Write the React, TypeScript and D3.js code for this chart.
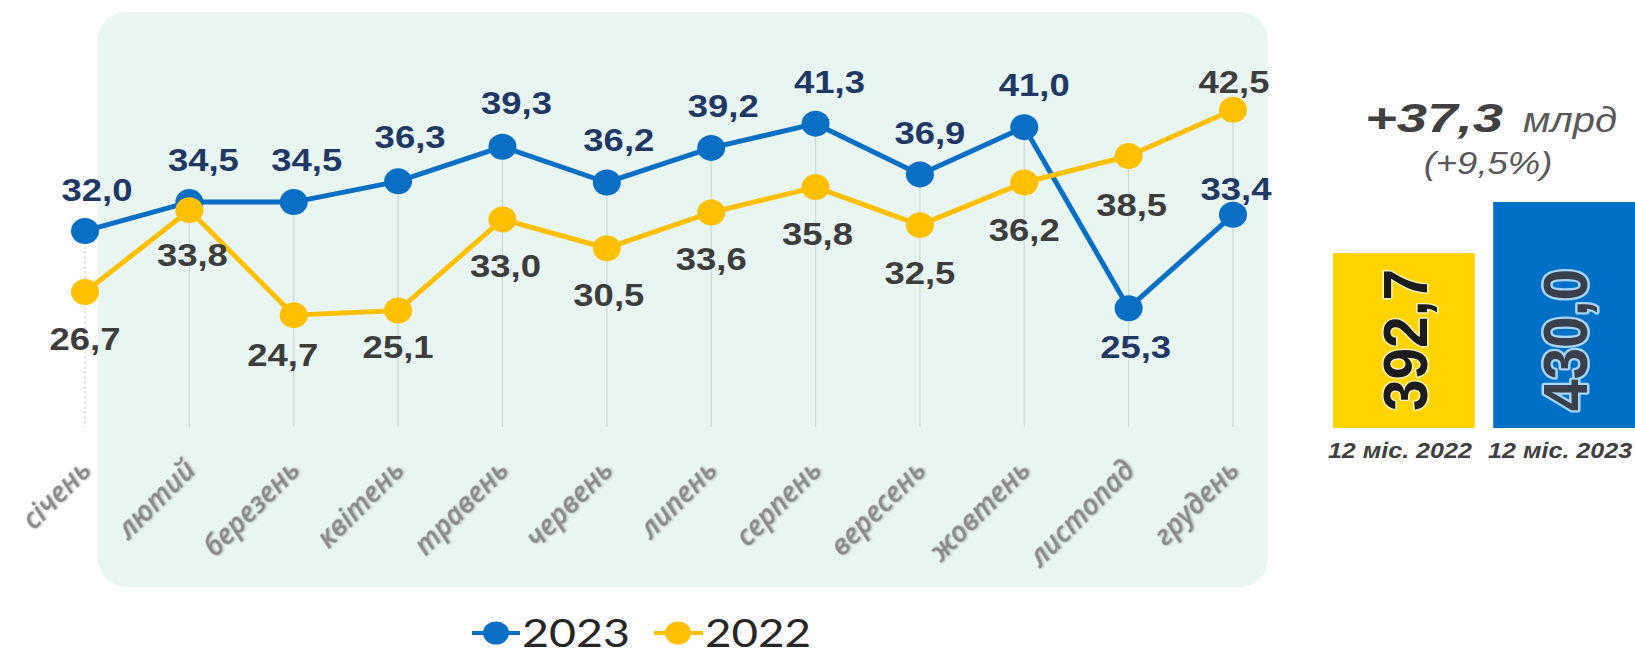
import React from "react";
import * as d3 from "d3";

const months = ["січень", "лютий", "березень", "квітень", "травень", "червень", "липень", "серпень", "вересень", "жовтень", "листопад", "грудень"];
const values2023 = [32.0, 34.5, 34.5, 36.3, 39.3, 36.2, 39.2, 41.3, 36.9, 41.0, 25.3, 33.4];
const values2022 = [26.7, 33.8, 24.7, 25.1, 33.0, 30.5, 33.6, 35.8, 32.5, 36.2, 38.5, 42.5];
const seriesNames = ["2023", "2022"];
const totalLabels = ["12 міс. 2022", "12 міс. 2023"];
const totalValues = [392.7, 430.0];
const deltaText = "+37,3";
const deltaUnit = "млрд";
const deltaPct = "(+9,5%)";

// label nudges (dx, dy of baseline relative to marker)
const nudge2023 = [[12, -30], [14, -31], [13, -31], [12, -33], [14, -33], [12, -31], [12, -31], [14, -31], [10, -30], [10, -31], [7, 50], [3, -15]];
const nudge2022 = [[0, 58], [3, 56], [-11, 51], [0, 47], [3, 58], [2, 58], [0, 58], [2, 58], [0, 59], [0, 59], [3, 60], [1, -17]];

const W = 1635;
const H = 656;
const SX = 1.14;
const BLUE = "#0a6fc4";
const YELLOW = "#ffc000";
const fmt = (v: number) => d3.format(".1f")(v).replace(".", ",");

export default function App() {
  const x = d3.scalePoint<string>().domain(months).range([85, 1233]);
  const y = d3.scaleLinear().domain([15, 45]).range([427, 81]);
  const barY = d3.scaleLinear().domain([265, 430]).range([428, 202]);
  const barX = d3.scaleBand<string>().domain(totalLabels).range([1333, 1635]).paddingInner(0.115);

  const line = d3
    .line<number>()
    .x((_, i) => x(months[i]) as number)
    .y((d) => y(d));

  const series = [
    { name: seriesNames[0], values: values2023, color: BLUE, text: "#1f3864", nudge: nudge2023 },
    { name: seriesNames[1], values: values2022, color: YELLOW, text: "#3d3d3d", nudge: nudge2022 },
  ];

  const labelFont = "'Liberation Sans', Arial, sans-serif";

  return (
    <svg width={W} height={H} style={{ position: "absolute", left: 0, top: 0, background: "#fff" }}>
      <defs>
        <filter id="soft" x="-20%" y="-20%" width="140%" height="140%">
          <feDropShadow dx="1" dy="1" stdDeviation="1.2" floodColor="#6f6f6f" floodOpacity="0.45" />
        </filter>
      </defs>
      {/* panel */}
      <rect x={98} y={12} width={1170} height={575} rx={28} fill="#e8f5f1" />

      {/* drop lines */}
      {months.map((m, i) => (
        <line
          key={m}
          x1={x(m)}
          x2={x(m)}
          y1={y(Math.max(values2023[i], values2022[i]))}
          y2={y(15)}
          stroke={i === 0 ? "#e6cfd3" : "#cfd8d5"}
          strokeWidth={1.2}
          strokeDasharray={i === 0 ? "3 2" : undefined}
        />
      ))}

      {/* lines & markers */}
      {series.map((s) => (
        <g key={s.name}>
          <path d={line(s.values) || ""} fill="none" stroke={s.color} strokeWidth={5} strokeLinejoin="round" />
          {s.values.map((v, i) => (
            <ellipse key={i} cx={x(months[i])} cy={y(v)} rx={14} ry={13} fill={s.color} />
          ))}
        </g>
      ))}

      {/* data labels */}
      {series.map((s) => (
        <g key={s.name + "l"}>
          {s.values.map((v, i) => (
            <text
              key={i}
              transform={`translate(${(x(months[i]) as number) + s.nudge[i][0]},${y(v) + s.nudge[i][1]}) scale(${SX},1)`}
              textAnchor="middle"
              fontFamily={labelFont}
              fontWeight={700}
              fontSize={32}
              fill={s.text}
            >
              {fmt(v)}
            </text>
          ))}
        </g>
      ))}

      {/* category labels */}
      {months.map((m) => (
        <text
          key={m + "c"}
          transform={`translate(${(x(m) as number) + 8},472) rotate(-45)`}
          textAnchor="end"
          fontFamily="'Open Sans', sans-serif"
          fontStyle="italic"
          fontWeight={600}
          fontSize={28}
          fill="#898989"
          filter="url(#soft)"
        >
          {m}
        </text>
      ))}

      {/* legend */}
      <g>
        <line x1={472} x2={520} y1={633} y2={633} stroke={BLUE} strokeWidth={4} />
        <ellipse cx={496} cy={633} rx={13} ry={11.5} fill={BLUE} />
        <text x={522} y={647} fontFamily="Lato, 'Open Sans', sans-serif" fontSize={38} fill="#262626" textLength={108} lengthAdjust="spacingAndGlyphs">
          {seriesNames[0]}
        </text>
        <line x1={654} x2={703} y1={633} y2={633} stroke={YELLOW} strokeWidth={4} />
        <ellipse cx={678} cy={633} rx={13} ry={11.5} fill={YELLOW} />
        <text x={705} y={647} fontFamily="Lato, 'Open Sans', sans-serif" fontSize={38} fill="#262626" textLength={106} lengthAdjust="spacingAndGlyphs">
          {seriesNames[1]}
        </text>
      </g>

      {/* right summary */}
      <text x={1365} y={132} fontFamily={labelFont} fontWeight={700} fontStyle="italic" fontSize={40} fill="#404040" textLength={138} lengthAdjust="spacingAndGlyphs">
        {deltaText}
      </text>
      <text transform={`translate(1523,132) scale(${SX},1)`} fontFamily={labelFont} fontStyle="italic" fontSize={35} fill="#595959">
        {deltaUnit}
      </text>
      <text transform={`translate(1488,174) scale(${SX},1)`} textAnchor="middle" fontFamily={labelFont} fontStyle="italic" fontSize={32} fill="#595959">
        {deltaPct}
      </text>

      {totalLabels.map((lab, i) => {
        const bx = barX(lab) as number;
        const bw = barX.bandwidth();
        const top = barY(totalValues[i]);
        const cx = bx + bw / 2;
        return (
          <g key={lab}>
            <rect x={bx} y={top} width={bw} height={barY(265) - top} fill={i === 0 ? "#ffd400" : "#0070c6"} />
            <text
              transform={`translate(${cx + 23},411) rotate(-90)`}
              fontFamily={labelFont}
              fontWeight={700}
              fontSize={63}
              fill={i === 0 ? "#1c1c1c" : "#39404c"}
              stroke={i === 0 ? "#fff5c0" : "#a8d4f6"}
              strokeWidth={i === 0 ? 3 : 5}
              paintOrder="stroke"
              strokeLinejoin="round"
              textLength={142}
              lengthAdjust="spacingAndGlyphs"
            >
              {fmt(totalValues[i])}
            </text>
            <text
              transform={`translate(${cx - 4},458) scale(${SX},1)`}
              textAnchor="middle"
              fontFamily={labelFont}
              fontWeight={700}
              fontStyle="italic"
              fontSize={22}
              fill="#404040"
            >
              {lab}
            </text>
          </g>
        );
      })}
    </svg>
  );
}
